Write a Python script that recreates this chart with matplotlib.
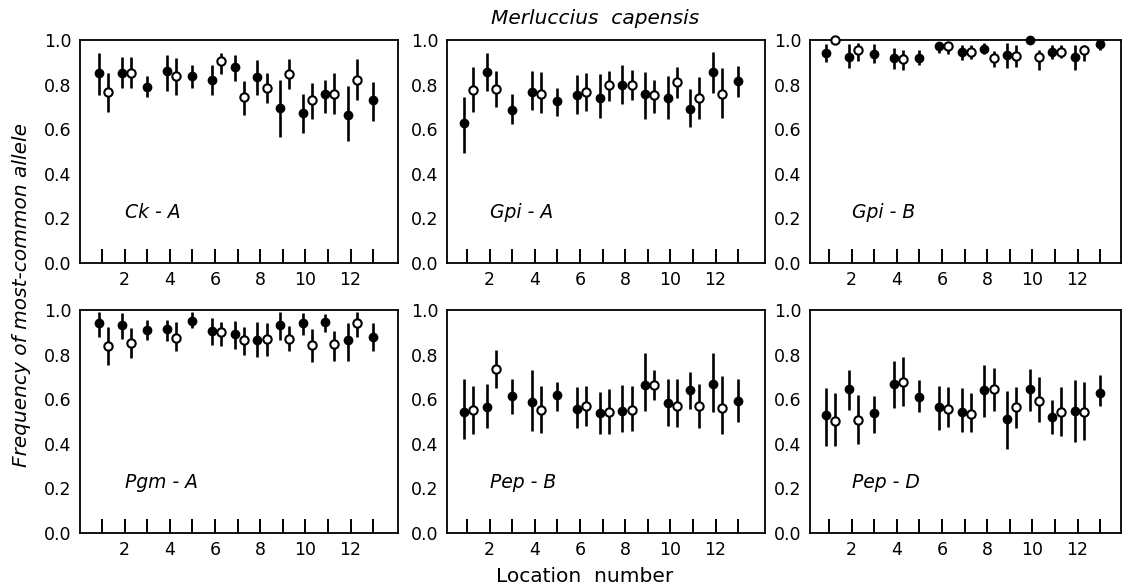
import numpy as np
import matplotlib
matplotlib.use("Agg")
import matplotlib.pyplot as plt

nan = np.nan
locations = list(range(1, 14))
tick_labels = ["", "2", "", "4", "", "6", "", "8", "", "10", "", "12", ""]
y_ticks = [0.0, 0.2, 0.4, 0.6, 0.8, 1.0]
y_tick_labels = ["0.0", "0.2", "0.4", "0.6", "0.8", "1.0"]
loci = ["Ck - A", "Gpi - A", "Gpi - B", "Pgm - A", "Pep - B", "Pep - D"]

# ---- Ck-A ----
ck_f = [0.852, 0.85, 0.79, 0.86, 0.84, 0.822, 0.88, 0.833, 0.696, 0.671, 0.756, 0.662, 0.729]
ck_f_hi = [0.94, 0.926, 0.837, 0.933, 0.89, 0.889, 0.933, 0.911, 0.822, 0.759, 0.822, 0.793, 0.812]
ck_f_lo = [0.755, 0.785, 0.744, 0.773, 0.785, 0.753, 0.818, 0.753, 0.566, 0.585, 0.674, 0.545, 0.637]
ck_o = [0.765, 0.85, nan, 0.84, nan, 0.908, 0.744, 0.785, 0.849, 0.733, 0.756, 0.822, nan]
ck_o_hi = [0.85, 0.926, nan, 0.918, nan, 0.94, 0.815, 0.852, 0.916, 0.807, 0.852, 0.916, nan]
ck_o_lo = [0.679, 0.785, nan, 0.755, nan, 0.847, 0.664, 0.719, 0.781, 0.644, 0.67, 0.733, nan]

# ---- Gpi-A ----
ga_f = [0.63, 0.855, 0.686, 0.766, 0.726, 0.753, 0.741, 0.80, 0.756, 0.741, 0.689, 0.856, 0.815]
ga_f_hi = [0.744, 0.94, 0.756, 0.859, 0.785, 0.841, 0.847, 0.889, 0.856, 0.837, 0.781, 0.948, 0.885]
ga_f_lo = [0.492, 0.77, 0.625, 0.686, 0.659, 0.667, 0.649, 0.711, 0.644, 0.644, 0.61, 0.763, 0.745]
ga_o = [0.778, 0.781, nan, 0.76, nan, 0.766, 0.797, 0.796, 0.753, 0.812, 0.741, 0.76, nan]
ga_o_hi = [0.877, 0.859, nan, 0.856, nan, 0.852, 0.862, 0.867, 0.822, 0.881, 0.833, 0.874, nan]
ga_o_lo = [0.679, 0.699, nan, 0.671, nan, 0.681, 0.726, 0.729, 0.674, 0.741, 0.644, 0.652, nan]

# ---- Gpi-B ----
gb_f = [0.943, 0.926, 0.936, 0.919, 0.921, 0.971, 0.947, 0.961, 0.933, 1.0, 0.947, 0.924, 0.98]
gb_f_hi = [0.98, 0.98, 0.981, 0.964, 0.957, 0.993, 0.979, 0.986, 0.986, 1.0, 0.979, 0.979, 0.995]
gb_f_lo = [0.90, 0.876, 0.896, 0.871, 0.89, 0.943, 0.91, 0.936, 0.874, 1.0, 0.914, 0.864, 0.955]
gb_o = [1.0, 0.957, nan, 0.914, nan, 0.971, 0.947, 0.921, 0.929, 0.924, 0.947, 0.953, nan]
gb_o_hi = [1.0, 0.986, nan, 0.957, nan, 0.993, 0.976, 0.95, 0.979, 0.953, 0.979, 0.979, nan]
gb_o_lo = [1.0, 0.907, nan, 0.864, nan, 0.939, 0.914, 0.879, 0.879, 0.864, 0.921, 0.907, nan]

# ---- Pgm-A ----
pg_f = [0.941, 0.933, 0.911, 0.914, 0.951, 0.904, 0.893, 0.864, 0.933, 0.941, 0.944, 0.867, 0.879]
pg_f_hi = [0.993, 0.985, 0.956, 0.956, 0.99, 0.963, 0.951, 0.945, 0.993, 0.985, 0.981, 0.941, 0.941]
pg_f_lo = [0.881, 0.871, 0.867, 0.862, 0.919, 0.844, 0.827, 0.79, 0.867, 0.889, 0.90, 0.773, 0.818]
pg_o = [0.837, 0.852, nan, 0.874, nan, 0.90, 0.867, 0.87, 0.87, 0.844, 0.847, 0.941, nan]
pg_o_hi = [0.926, 0.921, nan, 0.948, nan, 0.948, 0.926, 0.941, 0.93, 0.916, 0.907, 0.993, nan]
pg_o_lo = [0.753, 0.785, nan, 0.815, nan, 0.837, 0.80, 0.793, 0.815, 0.767, 0.773, 0.877, nan]

# ---- Pep-B ----
pb_f = [0.544, 0.566, 0.615, 0.588, 0.618, 0.556, 0.536, 0.548, 0.664, 0.585, 0.641, 0.667, 0.593]
pb_f_hi = [0.689, 0.667, 0.692, 0.733, 0.679, 0.656, 0.634, 0.662, 0.807, 0.689, 0.721, 0.807, 0.689]
pb_f_lo = [0.422, 0.471, 0.533, 0.459, 0.548, 0.471, 0.444, 0.452, 0.548, 0.481, 0.556, 0.544, 0.496]
pb_o = [0.551, 0.736, nan, 0.553, nan, 0.57, 0.544, 0.551, 0.664, 0.57, 0.57, 0.56, nan]
pb_o_hi = [0.659, 0.822, nan, 0.659, nan, 0.659, 0.644, 0.659, 0.733, 0.689, 0.67, 0.704, nan]
pb_o_lo = [0.444, 0.652, nan, 0.449, nan, 0.481, 0.444, 0.456, 0.596, 0.477, 0.471, 0.444, nan]

# ---- Pep-D ----
pd_f = [0.53, 0.644, 0.536, 0.67, 0.61, 0.566, 0.541, 0.64, 0.511, 0.644, 0.521, 0.548, 0.63]
pd_f_hi = [0.652, 0.733, 0.615, 0.77, 0.684, 0.659, 0.649, 0.753, 0.637, 0.736, 0.596, 0.684, 0.71]
pd_f_lo = [0.388, 0.551, 0.447, 0.56, 0.541, 0.462, 0.452, 0.519, 0.378, 0.545, 0.444, 0.407, 0.57]
pd_o = [0.504, 0.507, nan, 0.677, nan, 0.556, 0.533, 0.644, 0.563, 0.593, 0.541, 0.544, nan]
pd_o_hi = [0.63, 0.619, nan, 0.788, nan, 0.655, 0.63, 0.741, 0.655, 0.699, 0.655, 0.677, nan]
pd_o_lo = [0.388, 0.40, nan, 0.57, nan, 0.474, 0.452, 0.548, 0.471, 0.496, 0.437, 0.415, nan]

panels = [
    (ck_f, ck_f_lo, ck_f_hi, ck_o, ck_o_lo, ck_o_hi),
    (ga_f, ga_f_lo, ga_f_hi, ga_o, ga_o_lo, ga_o_hi),
    (gb_f, gb_f_lo, gb_f_hi, gb_o, gb_o_lo, gb_o_hi),
    (pg_f, pg_f_lo, pg_f_hi, pg_o, pg_o_lo, pg_o_hi),
    (pb_f, pb_f_lo, pb_f_hi, pb_o, pb_o_lo, pb_o_hi),
    (pd_f, pd_f_lo, pd_f_hi, pd_o, pd_o_lo, pd_o_hi),
]

W, H = 1124, 588
fig = plt.figure(figsize=(W / 100, H / 100), dpi=100)
plt.rcParams['font.family'] = ['DejaVu Sans']

lefts = [80, 447, 810]
rights = [398, 765, 1121]
tops = [40, 310]
bottoms = [263, 533]
tick1 = [102, 467, 829]
unit = 22.6

for i, (f, flo, fhi, o, olo, ohi) in enumerate(panels):
    r, c = divmod(i, 3)
    l, rr = lefts[c], rights[c]
    t, b = tops[r], bottoms[r]
    ax = fig.add_axes([l / W, 1 - b / H, (rr - l) / W, (b - t) / H])
    x0 = 1 - (tick1[c] - l) / unit
    x1 = 1 + (rr - tick1[c]) / unit
    ax.set_xlim(x0, x1)
    ax.set_ylim(0, 1)
    f = np.array(f, float); o = np.array(o, float)
    flo = np.array(flo, float); fhi = np.array(fhi, float)
    olo = np.array(olo, float); ohi = np.array(ohi, float)
    locs = np.array(locations, float)
    has_o = ~np.isnan(o)
    xf = np.where(has_o, locs - 0.12, locs)
    xo = locs + 0.28
    ax.vlines(xf, flo, fhi, color='black', lw=1.9, zorder=3)
    ax.vlines(xo[has_o], olo[has_o], ohi[has_o], color='black', lw=1.9, zorder=3)
    ax.plot(xf, f, 'o', ms=6, mfc='black', mec='black', zorder=4, clip_on=False)
    ax.plot(xo[has_o], o[has_o], 'o', ms=6, mfc='white', mec='black', mew=1.5,
            zorder=4, clip_on=False)
    ax.set_xticks(locations)
    ax.set_xticklabels(tick_labels)
    ax.set_yticks(y_ticks)
    ax.set_yticklabels(y_tick_labels)
    ax.tick_params(axis='x', direction='in', length=10, width=1.4, pad=6,
                   labelsize=12.5)
    ax.tick_params(axis='y', length=0, pad=6, labelsize=12.5)
    for sp in ax.spines.values():
        sp.set_linewidth(1.3)
    ax.text(2.0, 0.2, loci[i], fontsize=13.5, style='italic', ha='left',
            va='baseline')

fig.text(595 / W, 1 - 18 / H, "Merluccius  capensis", style='italic',
         fontsize=14.5, ha='center', va='center')
fig.text(585 / W, 1 - 577 / H, "Location  number", fontsize=14.5,
         ha='center', va='center')
fig.text(22 / W, 1 - 295 / H, "Frequency of most-common allele", style='italic',
         fontsize=14.5, ha='center', va='center', rotation=90)

fig.savefig("out.png", dpi=100)
